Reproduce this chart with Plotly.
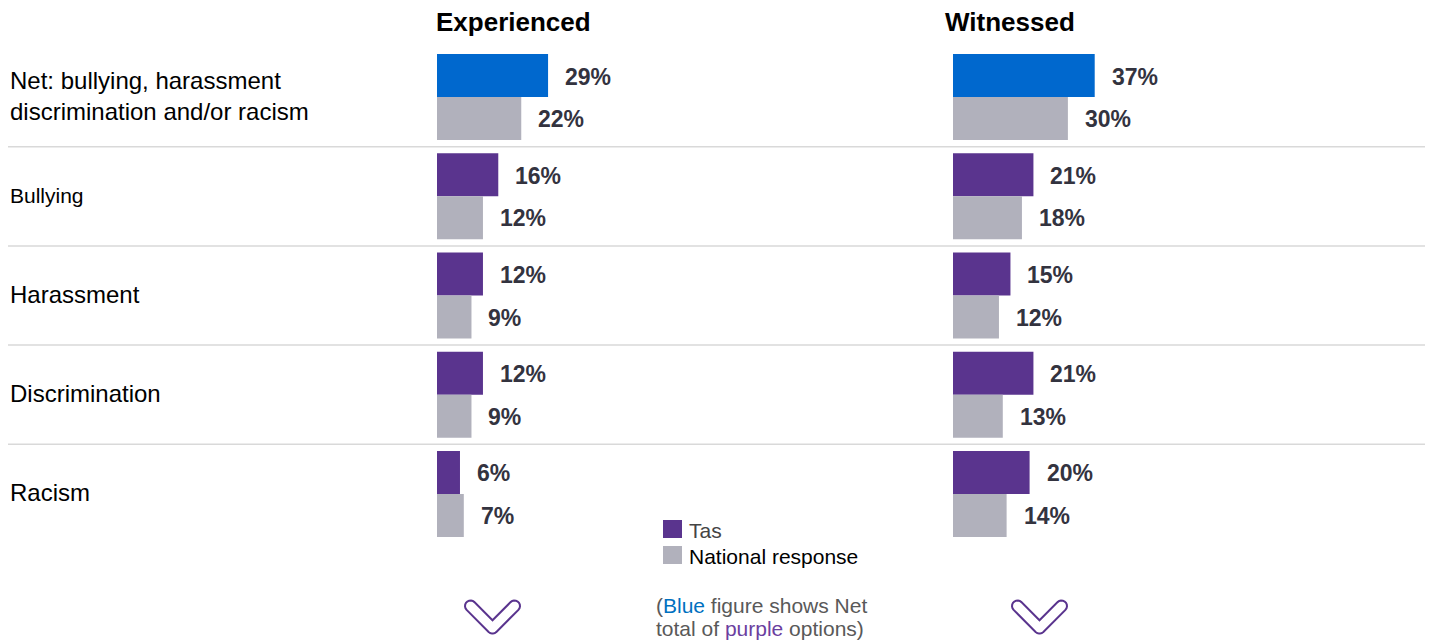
import numpy as np
import plotly.graph_objects as go

# --- data ---
cat_keys = ["Net", "Bullying", "Harassment", "Discrimination", "Racism"]
cat_labels = [
    "Net: bullying, harassment<br>discrimination and/or racism",
    "Bullying",
    "Harassment",
    "Discrimination",
    "Racism",
]
experienced_tas = [29, 16, 12, 12, 6]
experienced_national = [22, 12, 9, 9, 7]
witnessed_tas = [37, 21, 15, 21, 20]
witnessed_national = [30, 18, 12, 13, 14]

BLUE = "#0068CE"
PURPLE = "#5A348E"
GREY = "#B1B1BC"
LABEL = "#33333F"
FONT = "Liberation Sans, Arial, sans-serif"

W, H = 1429, 641


def px(x):
    return x / W


def py(y):
    return 1 - y / H


PX_PER_PCT = 3.83
COL_W = 300

fig = go.Figure()

tas_colors = [BLUE] + [PURPLE] * (len(cat_keys) - 1)
for xa, tas, nat in [("x", experienced_tas, experienced_national),
                     ("x2", witnessed_tas, witnessed_national)]:
    fig.add_trace(go.Bar(y=cat_keys, x=tas, orientation="h", xaxis=xa, yaxis="y",
                         marker=dict(color=tas_colors, line=dict(width=0)),
                         name="Tas", showlegend=False, hoverinfo="skip"))
    fig.add_trace(go.Bar(y=cat_keys, x=nat, orientation="h", xaxis=xa, yaxis="y",
                         marker=dict(color=GREY, line=dict(width=0)),
                         name="National response", showlegend=False, hoverinfo="skip"))

annotations = []
# value labels
for xa, tas, nat in [("x", experienced_tas, experienced_national),
                     ("x2", witnessed_tas, witnessed_national)]:
    for k, t, n in zip(cat_keys, tas, nat):
        for v, shift in [(t, 20.5), (n, -22)]:
            annotations.append(dict(x=v, y=k, xref=xa, yref="y", text="<b>%d%%</b>" % v,
                                    xanchor="left", yanchor="middle", xshift=15, yshift=shift,
                                    showarrow=False, font=dict(size=23, color=LABEL, family=FONT)))

# category labels
for k, lab in zip(cat_keys, cat_labels):
    size = 21 if k == "Bullying" else 24
    annotations.append(dict(x=px(8), y=k, xref="paper", yref="y", text=lab, align="left",
                            xanchor="left", yanchor="middle", showarrow=False, yshift=1,
                            font=dict(size=size, color="#000000", family=FONT)))

# column titles
annotations.append(dict(x=px(434), y=py(22), xref="paper", yref="paper", text="<b>Experienced</b>",
                        xanchor="left", yanchor="middle", showarrow=False,
                        font=dict(size=26, color="#000000", family=FONT)))
annotations.append(dict(x=px(943), y=py(22), xref="paper", yref="paper", text="<b>Witnessed</b>",
                        xanchor="left", yanchor="middle", showarrow=False,
                        font=dict(size=26, color="#000000", family=FONT)))

# legend
shapes = []
for y0, col, txt, tcol in [(520, PURPLE, "Tas", "#444444"), (546, GREY, "National response", "#000000")]:
    shapes.append(dict(type="rect", xref="paper", yref="paper", x0=px(663), x1=px(682),
                       y0=py(y0), y1=py(y0 + 18), fillcolor=col, line=dict(width=0)))
    annotations.append(dict(x=px(687), y=py(y0 + 10), xref="paper", yref="paper", text=txt,
                            xanchor="left", yanchor="middle", showarrow=False,
                            font=dict(size=21, color=tcol, family=FONT)))

# note
annotations.append(dict(x=px(654), y=py(605), xref="paper", yref="paper",
                        text="(<span style='color:#0070C0'>Blue</span> figure shows Net",
                        xanchor="left", yanchor="middle", showarrow=False,
                        font=dict(size=21, color="#595959", family=FONT)))
annotations.append(dict(x=px(654), y=py(628), xref="paper", yref="paper",
                        text="total of <span style='color:#6B3FA0'>purple</span> options)",
                        xanchor="left", yanchor="middle", showarrow=False,
                        font=dict(size=21, color="#595959", family=FONT)))

# row separators
for i in range(len(cat_keys) - 1):
    shapes.append(dict(type="line", xref="paper", yref="y", x0=px(8), x1=px(1425),
                       y0=i + 0.5, y1=i + 0.5, line=dict(color="#D9D9D9", width=1.5)))


# chevron outlines (decorative)
def chevron(cx, tip_y, r=5.5, arm=22):
    A = np.array([cx - arm, tip_y - arm])
    B = np.array([cx, tip_y])
    C = np.array([cx + arm, tip_y - arm])

    def arc(c, a0, a1, n=10):
        t = np.radians(np.linspace(a0, a1, n))
        return [c + r * np.array([np.cos(a), np.sin(a)]) for a in t]

    pts = []
    pts += arc(A, 135, 135, 1)
    pts += arc(B, 135, 45)
    pts += arc(C, 45, -135)
    pts.append(B + np.array([0, -r * np.sqrt(2)]))
    pts += arc(A, -45, -225)
    d = "M " + " L ".join("%.5f,%.5f" % (px(p[0]), py(p[1])) for p in pts) + " Z"
    return dict(type="path", xref="paper", yref="paper", path=d,
                line=dict(color=PURPLE, width=2), fillcolor="rgba(0,0,0,0)")


shapes.append(chevron(492.5, 628))
shapes.append(chevron(1039.5, 628))

fig.update_layout(
    width=W, height=H,
    margin=dict(l=0, r=0, t=0, b=0),
    paper_bgcolor="white", plot_bgcolor="white",
    barmode="group", bargap=0.134, bargroupgap=0,
    xaxis=dict(domain=[px(437), px(437 + COL_W)], range=[0, COL_W / PX_PER_PCT],
               visible=False, fixedrange=True),
    xaxis2=dict(domain=[px(953), px(953 + COL_W)], range=[0, COL_W / PX_PER_PCT],
                visible=False, fixedrange=True),
    yaxis=dict(domain=[py(543.6), py(47.4)], autorange="reversed", visible=False,
               categoryorder="array", categoryarray=cat_keys, fixedrange=True),
    annotations=annotations,
    shapes=shapes,
    showlegend=False,
)

# drop the default page margin so the figure sits at the window's top-left corner
fig.write_html("out.html", config={"displayModeBar": False},
               post_script="document.body.style.margin='0';")
